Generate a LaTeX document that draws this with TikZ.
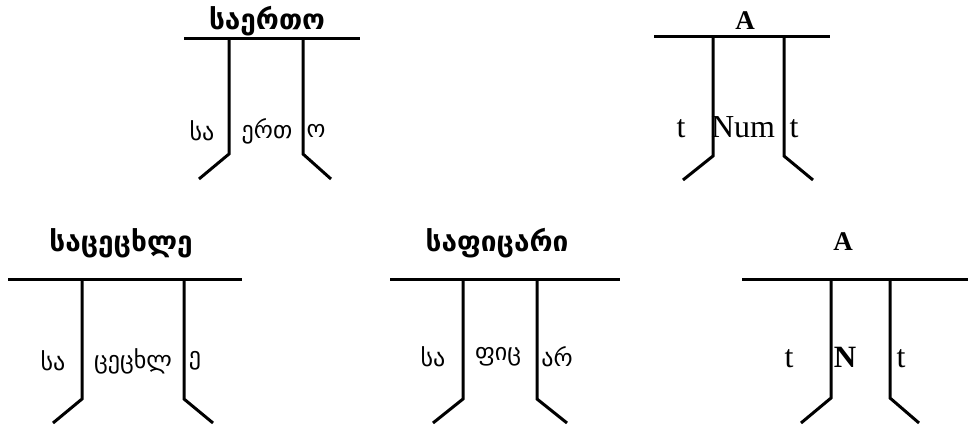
\documentclass[tikz,border=0pt]{standalone}
\usepackage{fontspec}
\setmainfont{Liberation Serif}
\newfontfamily\geo{DejaVu Sans}
\begin{document}
\begin{tikzpicture}[x=1pt,y=-1pt,
  bar/.style={line width=3pt},
  leg/.style={line width=3pt},
  geotitle/.style={inner sep=0pt,font=\geo\bfseries\fontsize{28}{32}\selectfont},
  geolab/.style={inner sep=0pt,font=\geo\fontsize{24}{28}\selectfont},
  lattitle/.style={inner sep=0pt,font=\bfseries\fontsize{27}{30}\selectfont},
  latlab/.style={inner sep=0pt,font=\fontsize{32}{36}\selectfont},
  latlabb/.style={inner sep=0pt,font=\bfseries\fontsize{31}{34}\selectfont}]
\useasboundingbox (0,0) rectangle (969,425);
% tree 1
\coordinate (a1L) at (184,39); \coordinate (a1R) at (360,39);
\coordinate (a1l) at (229,39); \coordinate (a1r) at (303,39);
\coordinate (a1lb) at (229,154); \coordinate (a1rb) at (303,154);
\coordinate (a1lf) at (199,179); \coordinate (a1rf) at (331,179);
\draw[bar] (a1L) -- (a1R);
\draw[leg] (a1l) -- (a1lb) -- (a1lf);
\draw[leg] (a1r) -- (a1rb) -- (a1rf);
\node[geotitle] (t1) at (267,21) {საერთო};
\node[geolab] (l1a) at (202,131) {სა};
\node[geolab] (l1b) at (267,131) {ერთ};
\node[geolab] (l1c) at (316,131) {ო};
% tree 2
\coordinate (a2L) at (654,37); \coordinate (a2R) at (830,37);
\coordinate (a2l) at (713,37); \coordinate (a2r) at (784,37);
\coordinate (a2lb) at (713,156); \coordinate (a2rb) at (784,156);
\coordinate (a2lf) at (683,180); \coordinate (a2rf) at (813,180);
\draw[bar] (a2L) -- (a2R);
\draw[leg] (a2l) -- (a2lb) -- (a2lf);
\draw[leg] (a2r) -- (a2rb) -- (a2rf);
\node[lattitle] (t2) at (745,21) {A};
\node[latlab] (l2a) at (681,129) {t};
\node[latlab] (l2b) at (743,127) {Num};
\node[latlab] (l2c) at (794,129) {t};
% tree 3
\coordinate (a3L) at (8,279); \coordinate (a3R) at (242,279);
\coordinate (a3l) at (82,279); \coordinate (a3r) at (184,279);
\coordinate (a3lb) at (82,399); \coordinate (a3rb) at (184,399);
\coordinate (a3lf) at (53,423); \coordinate (a3rf) at (213,423);
\draw[bar] (a3L) -- (a3R);
\draw[leg] (a3l) -- (a3lb) -- (a3lf);
\draw[leg] (a3r) -- (a3rb) -- (a3rf);
\node[geotitle] (t3) at (121,243) {საცეცხლე};
\node[geolab] (l3a) at (53,361) {სა};
\node[geolab] (l3b) at (133,361) {ცეცხლ};
\node[geolab] (l3c) at (195,361) {ე};
% tree 4
\coordinate (a4L) at (390,279); \coordinate (a4R) at (620,279);
\coordinate (a4l) at (463,279); \coordinate (a4r) at (537,279);
\coordinate (a4lb) at (463,399); \coordinate (a4rb) at (537,399);
\coordinate (a4lf) at (433,423); \coordinate (a4rf) at (567,423);
\draw[bar] (a4L) -- (a4R);
\draw[leg] (a4l) -- (a4lb) -- (a4lf);
\draw[leg] (a4r) -- (a4rb) -- (a4rf);
\node[geotitle] (t4) at (497,243) {საფიცარი};
\node[geolab] (l4a) at (433,357) {სა};
\node[geolab] (l4b) at (498,357) {ფიც};
\node[geolab] (l4c) at (557,357) {არ};
% tree 5
\coordinate (a5L) at (742,279); \coordinate (a5R) at (968,279);
\coordinate (a5l) at (831,279); \coordinate (a5r) at (890,279);
\coordinate (a5lb) at (831,398); \coordinate (a5rb) at (890,398);
\coordinate (a5lf) at (801,423); \coordinate (a5rf) at (919,423);
\draw[bar] (a5L) -- (a5R);
\draw[leg] (a5l) -- (a5lb) -- (a5lf);
\draw[leg] (a5r) -- (a5rb) -- (a5rf);
\node[lattitle] (t5) at (843,242) {A};
\node[latlab] (l5a) at (789,359) {t};
\node[latlabb] (l5b) at (845,357) {N};
\node[latlab] (l5c) at (901,359) {t};
\end{tikzpicture}
\end{document}
